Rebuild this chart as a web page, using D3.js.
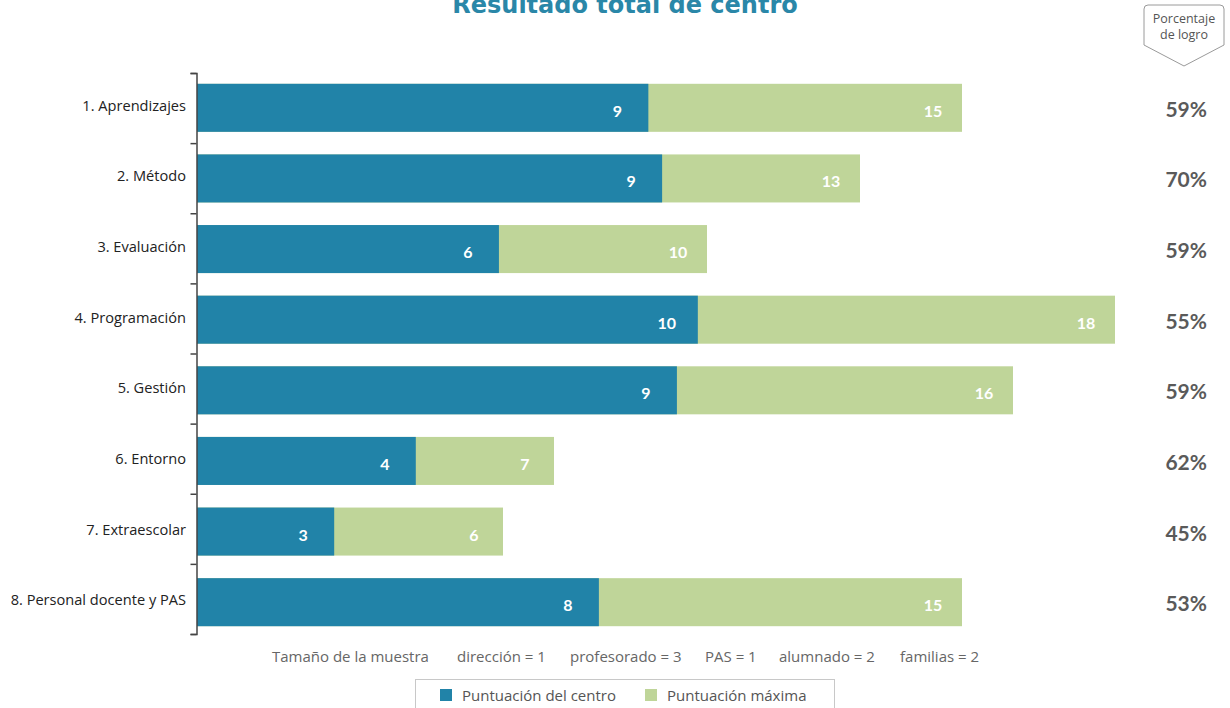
<!DOCTYPE html>
<html>
<head>
<meta charset="utf-8">
<script src="https://cdn.jsdelivr.net/npm/d3@7"></script>
<style>
  body { margin: 0; background: #fff; }
  svg { display: block; font-family: "Open Sans", Lato, sans-serif; }
</style>
</head>
<body>
<svg id="chart" width="1230" height="708"></svg>
<script>
const categories = ["1. Aprendizajes", "2. Método", "3. Evaluación", "4. Programación",
  "5. Gestión", "6. Entorno", "7. Extraescolar", "8. Personal docente y PAS"];
const centerScores = [8.85, 9.12, 5.92, 9.82, 9.41, 4.29, 2.69, 7.88];
const maxScores = [15, 13, 10, 18, 16, 7, 6, 15];
const percentages = [59, 70, 59, 55, 59, 62, 45, 53];
const sampleText = ["Tamaño de la muestra", "dirección = 1", "profesorado = 3", "PAS = 1", "alumnado = 2", "familias = 2"];
const legendLabels = ["Puntuación del centro", "Puntuación máxima"];

const blue = "#2183a8";
const green = "#bfd599";

const svg = d3.select("#chart");

const x = d3.scaleLinear().domain([0, 18]).range([197, 1115]);
const y = d3.scaleBand().domain(categories).range([72.5, 637.5]).paddingInner(0.32).paddingOuter(0.16);
const yEdge = d3.scaleLinear().domain([0, categories.length]).range([73, 634]);

const data = categories.map((c, i) => ({
  cat: c, center: centerScores[i], max: maxScores[i], pct: percentages[i]
}));

// title
svg.append("text")
  .attr("x", 625).attr("y", 13)
  .attr("text-anchor", "middle")
  .attr("font-family", "DejaVu Sans, sans-serif")
  .attr("font-size", 24).attr("font-weight", 700)
  .attr("fill", "#2a87a8")
  .text("Resultado total de centro");

// max bars (behind)
svg.selectAll(".max-bar")
  .data(data)
  .enter().append("rect")
  .attr("class", "max-bar")
  .attr("x", x(0))
  .attr("y", d => y(d.cat))
  .attr("width", d => x(d.max) - x(0))
  .attr("height", y.bandwidth())
  .attr("fill", green);

// center bars
svg.selectAll(".center-bar")
  .data(data)
  .enter().append("rect")
  .attr("class", "center-bar")
  .attr("x", x(0))
  .attr("y", d => y(d.cat))
  .attr("width", d => x(d.center) - x(0))
  .attr("height", y.bandwidth())
  .attr("fill", blue);

// value labels
svg.selectAll(".max-label")
  .data(data)
  .enter().append("text")
  .attr("x", d => x(d.max) - 29)
  .attr("y", d => y(d.cat) + y.bandwidth() / 2 + 9)
  .attr("text-anchor", "middle")
  .attr("font-family", "Lato, sans-serif")
  .attr("font-size", 16).attr("font-weight", 700)
  .attr("fill", "#fff")
  .text(d => d.max);

svg.selectAll(".center-label")
  .data(data)
  .enter().append("text")
  .attr("x", d => x(d.center) - 31)
  .attr("y", d => y(d.cat) + y.bandwidth() / 2 + 9)
  .attr("text-anchor", "middle")
  .attr("font-family", "Lato, sans-serif")
  .attr("font-size", 16).attr("font-weight", 700)
  .attr("fill", "#fff")
  .text(d => Math.round(d.center));

// axis
svg.append("g")
  .attr("transform", "translate(196.5,0)")
  .call(d3.axisLeft(yEdge).tickValues(d3.range(categories.length + 1)).tickFormat("").tickSize(6).tickSizeOuter(6))
  .call(g => g.selectAll("line, path").attr("stroke", "#444").attr("stroke-width", 1.5));

svg.selectAll(".cat-label")
  .data(data)
  .enter().append("text")
  .attr("x", 186)
  .attr("y", d => y(d.cat) + y.bandwidth() / 2 + 3)
  .attr("text-anchor", "end")
  .attr("font-size", 14.6)
  .attr("fill", "#222")
  .text(d => d.cat);

// percentages
svg.selectAll(".pct")
  .data(data)
  .enter().append("text")
  .attr("x", 1207)
  .attr("y", d => y(d.cat) + y.bandwidth() / 2 + 9)
  .attr("text-anchor", "end")
  .attr("font-family", "Lato, sans-serif")
  .attr("font-size", 21).attr("font-weight", 700)
  .attr("fill", "#5a5a5a")
  .text(d => d.pct + "%");

// callout header
const cx0 = 1144, cx1 = 1224, ctop = 5, cside = 45, ctip = 66, r = 4;
svg.append("path")
  .attr("d", `M${cx0},${cside} L${cx0},${ctop + r} Q${cx0},${ctop} ${cx0 + r},${ctop} L${cx1 - r},${ctop} Q${cx1},${ctop} ${cx1},${ctop + r} L${cx1},${cside} L${(cx0 + cx1) / 2},${ctip} Z`)
  .attr("fill", "#fff")
  .attr("stroke", "#9a9a9a")
  .attr("stroke-width", 1);
svg.append("text")
  .attr("x", 1184).attr("y", 23)
  .attr("text-anchor", "middle")
  .attr("font-size", 12.5).attr("fill", "#555")
  .text("Porcentaje");
svg.append("text")
  .attr("x", 1184).attr("y", 39)
  .attr("text-anchor", "middle")
  .attr("font-size", 12.5).attr("fill", "#555")
  .text("de logro");

// sample size row
const sampleX = [272, 457, 570, 705, 779, 900];
svg.selectAll(".sample")
  .data(sampleText)
  .enter().append("text")
  .attr("x", (d, i) => sampleX[i])
  .attr("y", 662)
  .attr("font-size", 15)
  .attr("fill", "#666")
  .text(d => d);

// legend
svg.append("rect")
  .attr("x", 415.5).attr("y", 679.5)
  .attr("width", 419).attr("height", 40)
  .attr("fill", "#fff")
  .attr("stroke", "#c8c8c8");

const legendX = [440, 645];
const legendColors = [blue, green];
const lg = svg.selectAll(".lg")
  .data(legendLabels)
  .enter().append("g")
  .attr("transform", (d, i) => `translate(${legendX[i]},689)`);
lg.append("rect")
  .attr("width", 12).attr("height", 12)
  .attr("fill", (d, i) => legendColors[i]);
lg.append("text")
  .attr("x", 22).attr("y", 11.5)
  .attr("font-size", 15)
  .attr("fill", "#555")
  .text(d => d);
</script>
</body>
</html>
